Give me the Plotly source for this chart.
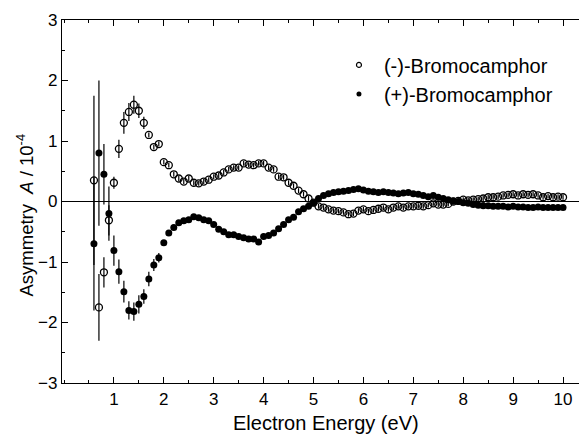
import plotly.graph_objects as go

energy = [0.6, 0.7, 0.8, 0.9] + [round(1.0 + 0.1 * i, 1) for i in range(91)]

minus_asym = [0.35, -1.75, -1.17, -0.31,
    0.31, 0.87, 1.30, 1.48, 1.60, 1.50, 1.30, 1.10, 0.90, 0.95,
    0.65, 0.60, 0.45, 0.38, 0.33, 0.38, 0.31, 0.30, 0.33, 0.36,
    0.41, 0.43, 0.48, 0.53, 0.56, 0.56, 0.63, 0.61, 0.60, 0.63,
    0.63, 0.56, 0.53, 0.41, 0.40, 0.31, 0.26, 0.18, 0.12, 0.05,
    -0.02, -0.08, -0.10, -0.13, -0.15, -0.16, -0.18, -0.21, -0.20, -0.15,
    -0.13, -0.16, -0.14, -0.12, -0.10, -0.13, -0.10, -0.08, -0.10, -0.08,
    -0.08, -0.07, -0.08, -0.06, -0.03, -0.05, -0.05, -0.04, 0.00, 0.01,
    0.03, 0.02, 0.03, 0.04, 0.05, 0.07, 0.07, 0.08, 0.10, 0.11,
    0.12, 0.10, 0.12, 0.11, 0.12, 0.10, 0.07, 0.09, 0.07, 0.08,
    0.07]
minus_err = [1.40, 0.55, 0.25, 0.25,
    0.10, 0.15, 0.18, 0.15, 0.15, 0.12, 0.10] + [0.04] * 84

plus_asym = [-0.70, 0.80, 0.45, -0.20,
    -0.81, -1.16, -1.49, -1.80, -1.82, -1.70, -1.57, -1.28, -1.05, -0.93,
    -0.68, -0.52, -0.43, -0.35, -0.32, -0.30, -0.25, -0.27, -0.30, -0.32,
    -0.38, -0.46, -0.50, -0.55, -0.55, -0.58, -0.60, -0.62, -0.62, -0.67,
    -0.58, -0.56, -0.52, -0.45, -0.38, -0.30, -0.26, -0.17, -0.12, -0.08,
    -0.02, 0.05, 0.10, 0.13, 0.15, 0.16, 0.17, 0.18, 0.20, 0.21,
    0.19, 0.17, 0.16, 0.15, 0.16, 0.15, 0.14, 0.13, 0.14, 0.15,
    0.13, 0.12, 0.10, 0.08, 0.10, 0.07, 0.05, 0.03, 0.01, 0.00,
    -0.02, -0.03, -0.05, -0.06, -0.07, -0.07, -0.08, -0.08, -0.08, -0.09,
    -0.08, -0.09, -0.09, -0.10, -0.10, -0.09, -0.10, -0.10, -0.10, -0.10,
    -0.10]
plus_err = [1.10, 1.20, 0.50, 0.45,
    0.25, 0.20, 0.18, 0.15, 0.15, 0.15, 0.12, 0.12, 0.10, 0.08] + [0.04] * 81

series_names = ["(-)-Bromocamphor", "(+)-Bromocamphor"]
x_ticks = [1, 2, 3, 4, 5, 6, 7, 8, 9, 10]
y_ticks = [-3, -2, -1, 0, 1, 2, 3]
x_title = "Electron Energy (eV)"
y_title = "Asymmetry  <i>A</i> / 10<sup>-4</sup>"

FONT = "Liberation Sans, Arial, sans-serif"

fig = go.Figure()
fig.add_trace(go.Scatter(
    x=energy, y=minus_asym, mode="markers", name=series_names[0], showlegend=False,
    error_y=dict(type="data", array=minus_err, color="black", thickness=1.2, width=0),
    marker=dict(symbol="circle-open", size=7, color="black", line=dict(width=1.3)),
))
fig.add_trace(go.Scatter(
    x=energy, y=plus_asym, mode="markers", name=series_names[1], showlegend=False,
    error_y=dict(type="data", array=plus_err, color="black", thickness=1.2, width=0),
    marker=dict(symbol="circle", size=7, color="black"),
))
# legend entries with small symbols, as in the reference
fig.add_trace(go.Scatter(
    x=[None], y=[None], mode="markers", name=series_names[0],
    marker=dict(symbol="circle-open", size=5, color="black", line=dict(width=1.2)),
))
fig.add_trace(go.Scatter(
    x=[None], y=[None], mode="markers", name=series_names[1],
    marker=dict(symbol="circle", size=5, color="black"),
))

fig.add_shape(type="line", xref="paper", x0=0, x1=1, yref="y", y0=0, y1=0,
              line=dict(color="black", width=1.2))

axis_common = dict(
    showgrid=False, zeroline=False, showline=True, linecolor="black", linewidth=1.2,
    mirror="ticks", ticks="inside", ticklen=6, tickwidth=1.2, tickcolor="black",
    tickfont=dict(family=FONT, size=17, color="black"), automargin=False,
)

fig.update_xaxes(
    range=[-0.04, 10.44], tickvals=x_ticks,
    minor=dict(dtick=0.5, tick0=0, ticks="inside", ticklen=3, tickcolor="black", tickwidth=1),
    **axis_common,
)
fig.update_yaxes(
    range=[-3, 3], tickvals=y_ticks,
    minor=dict(dtick=0.5, tick0=0, ticks="inside", ticklen=3, tickcolor="black", tickwidth=1),
    **axis_common,
)

fig.add_annotation(text=x_title, xref="paper", yref="paper", x=0.5, y=0,
                   xanchor="center", yanchor="middle", yshift=-40, xshift=2, showarrow=False,
                   font=dict(family=FONT, size=20, color="black"))
fig.add_annotation(text=y_title, xref="paper", yref="paper", x=0, y=0.5, textangle=-90,
                   xanchor="center", yanchor="middle", xshift=-37, yshift=-14, showarrow=False,
                   font=dict(family=FONT, size=18.5, color="black"))

# the page body adds an 8 px margin, so the figure is sized to fit the window
fig.update_layout(
    width=579, height=426,
    margin=dict(l=54, r=2, t=12, b=51),
    plot_bgcolor="white", paper_bgcolor="white",
    showlegend=True,
    legend=dict(x=0.52, y=0.93, xanchor="left", yanchor="top",
                font=dict(family=FONT, size=20, color="black"),
                bgcolor="rgba(0,0,0,0)", itemwidth=40, tracegroupgap=0),
)

fig.write_html("out.html")
